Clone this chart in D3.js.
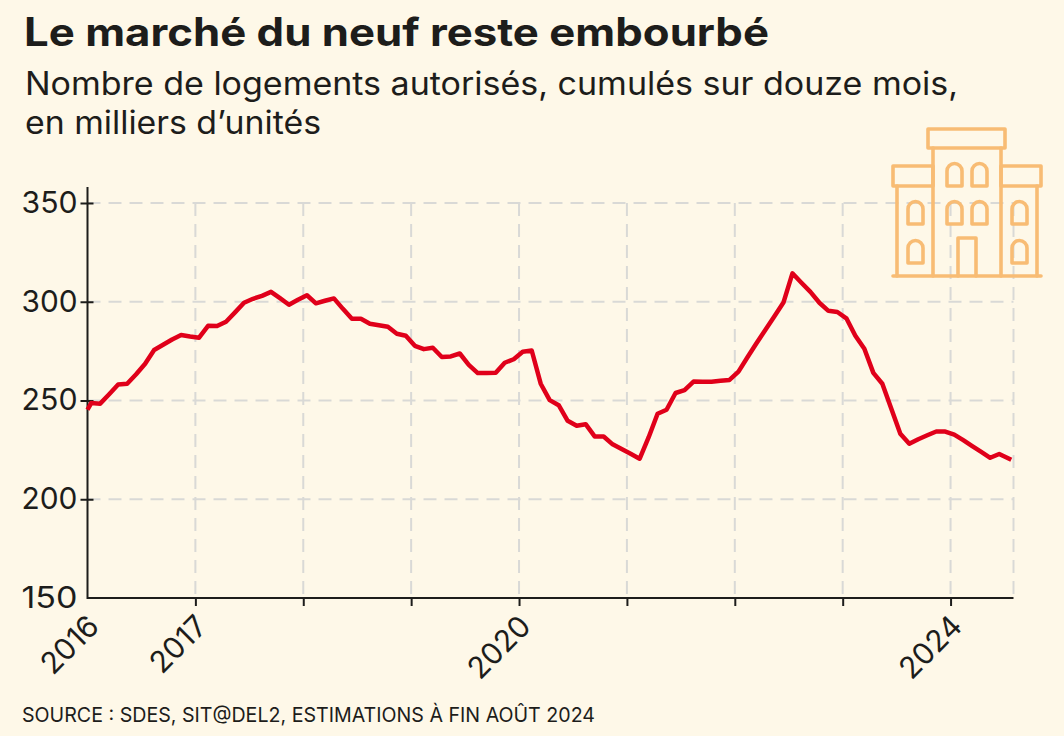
<!DOCTYPE html>
<html><head><meta charset="utf-8">
<script src="https://cdnjs.cloudflare.com/ajax/libs/d3/7.8.5/d3.min.js"></script>
<style>html,body{margin:0;padding:0;background:#fef8e8}svg{display:block}text{font-family:Inter,sans-serif;fill:#1d1d1b}</style>
</head><body><svg id="c" width="1064" height="736"></svg>
<script>
const titleText="Le marché du neuf reste embourbé";
const subtitleLines=["Nombre de logements autorisés, cumulés sur douze mois,","en milliers d’unités"];
const sourceText="SOURCE : SDES, SIT@DEL2, ESTIMATIONS À FIN AOÛT 2024";
const yTicks=[150,200,250,300,350];
const xTickMonths=[0,12,24,36,48,60,72,84,96,103];
const xTickLabels={0:"2016",12:"2017",48:"2020",96:"2024"};
const firstValue=245.3;
const values=[248.7,248.4,253.2,258.1,258.5,263.3,268.6,275.6,278.2,280.9,283.2,282.4,281.8,287.8,287.7,289.9,294.6,299.5,301.5,303,305,301.8,298.5,301,303.3,299.2,300.5,301.7,296.4,291.4,291.4,288.9,288.1,287.3,283.8,282.8,277.7,276,276.7,272,272.3,273.8,268,263.9,263.9,264,269.1,270.9,274.7,275.3,258.5,250.2,247.6,239.7,237.2,238,231.8,231.8,227.8,225.4,223,220.5,231.3,243.3,245.3,253.8,255.3,259.6,259.5,259.5,260,260.4,264.6,271.9,279,285.8,292.7,299.6,314.4,309.6,305,299.5,295.4,294.8,291.6,282.8,276.2,264,258.5,245.8,233.2,228.1,230.4,232.4,234.3,234.3,232.7,229.9,226.9,224,221,222.9];
const lastValue=220;
const monthOffset=0.41, lastMonth=102.75;

const svg=d3.select("#c");
const x=d3.scaleLinear().domain([0,103]).range([87.5,1013.5]);
const y=d3.scaleLinear().domain([150,350]).range([598,203]);
const points=[[0,firstValue],...values.map((v,i)=>[i+monthOffset,v]),[lastMonth,lastValue]];

svg.append("text").attr("x",24).attr("y",46).attr("font-size",39).attr("font-weight",700).attr("textLength",745).attr("lengthAdjust","spacingAndGlyphs").text(titleText);
svg.selectAll(".sub").data(subtitleLines).join("text").attr("class","sub").attr("x",25).attr("y",(d,i)=>95+i*39).attr("font-size",32).attr("textLength",(d,i)=>[933,296][i]).attr("lengthAdjust","spacingAndGlyphs").text(d=>d);

const gridColor="#d9d9d6";
svg.append("g").selectAll("line").data(yTicks.slice(1)).join("line")
 .attr("x1",x(0)).attr("x2",x(103)).attr("y1",y).attr("y2",y)
 .attr("stroke",gridColor).attr("stroke-width",2).attr("stroke-dasharray","13 8");
svg.append("g").selectAll("line").data(xTickMonths.slice(1)).join("line")
 .attr("x1",x).attr("x2",x).attr("y1",y(350)).attr("y2",y(150))
 .attr("stroke",gridColor).attr("stroke-width",2).attr("stroke-dasharray","13 8");

const ink="#1d1d1b";
const ay=svg.append("g").attr("transform","translate(87.5,0)")
 .call(d3.axisLeft(y).tickValues(yTicks).tickSize(7).tickPadding(3));
ay.select(".domain").remove();
ay.selectAll("line").attr("stroke",ink).attr("stroke-width",2).attr("x2",-7).attr("x1",6);
ay.selectAll("text").attr("font-size",29.5).style("font-family","Inter").attr("fill",ink).attr("textLength",56).attr("lengthAdjust","spacingAndGlyphs");
ay.selectAll(".tick").filter(d=>d===150).select("line").remove();
svg.append("line").attr("x1",87.5).attr("x2",87.5).attr("y1",187).attr("y2",y(150)+1).attr("stroke",ink).attr("stroke-width",2);

const ax=svg.append("g").attr("transform","translate(0,598)")
 .call(d3.axisBottom(x).tickValues(xTickMonths).tickSize(8).tickFormat(d=>xTickLabels[d]||""));
ax.select(".domain").attr("stroke",ink).attr("stroke-width",2).attr("d",`M${x(0)},0H${x(103)}`);
ax.selectAll("line").attr("stroke",ink).attr("stroke-width",2);
ax.selectAll(".tick").filter(d=>d===0||d===103).select("line").remove();
ax.selectAll("text").attr("font-size",30).style("font-family","Inter").attr("fill",ink)
 .attr("text-anchor","end").attr("dy",0).attr("y",0).attr("transform","translate(13,30) rotate(-45)");

svg.append("path").datum(points).attr("fill","none").attr("stroke","#e0001a").attr("stroke-width",4.5).attr("stroke-linejoin","round")
 .attr("d",d3.line().x(d=>x(d[0])).y(d=>y(d[1])));

// building icon
const ic=svg.append("g").attr("fill","none").attr("stroke","#f8bc74").attr("stroke-width",3.6).attr("stroke-linejoin","round").attr("stroke-linecap","round");
[[928,129,77,19],[893,166,40,20],[1001,166,40,20]].forEach(r=>ic.append("rect").attr("x",r[0]).attr("y",r[1]).attr("width",r[2]).attr("height",r[3]));
["M933,148V276","M1001,148V276","M897,186V276","M1037,186V276","M893,276H1041","M958,276V238H976V276"].forEach(d=>ic.append("path").attr("d",d));
const arch=(l,t)=>`M${l},${t+23}V${t+8}a7.5,7.5 0 0 1 15,0V${t+23}Z`;
[[947,163],[972,163],[947,201],[972,201],[908,201],[1012,201],[908,240],[1012,240]].forEach(a=>ic.append("path").attr("d",arch(a[0],a[1])));

svg.append("text").attr("x",22).attr("y",722).attr("font-size",20).attr("textLength",573).attr("lengthAdjust","spacingAndGlyphs").text(sourceText);
</script></body></html>
